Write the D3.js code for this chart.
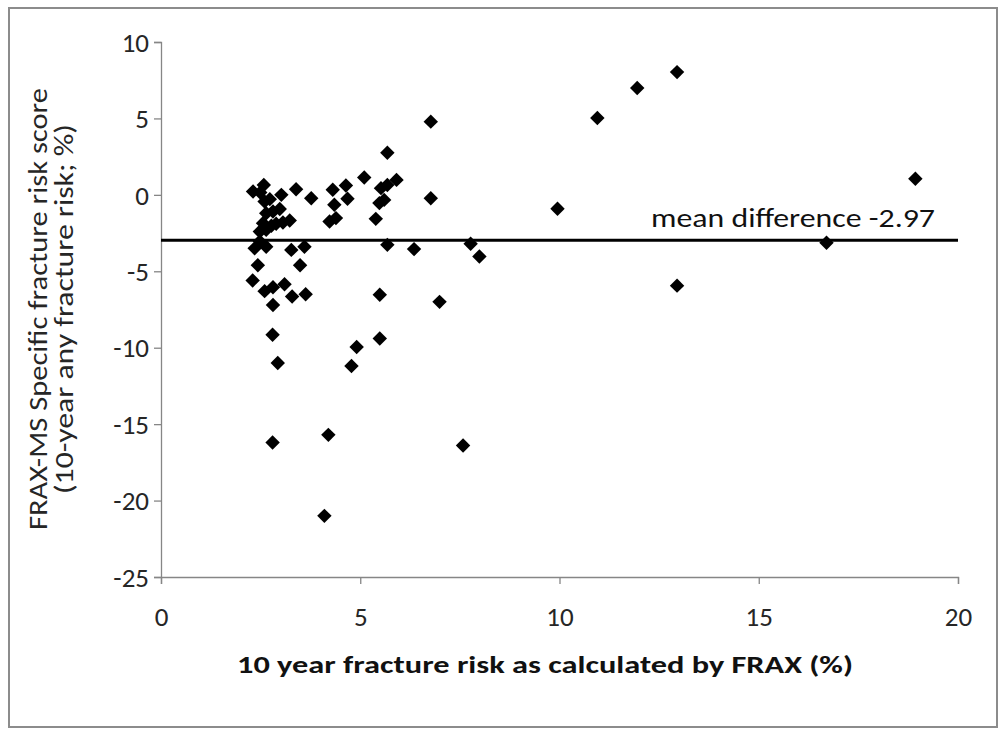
<!DOCTYPE html>
<html>
<head>
<meta charset="utf-8">
<script src="https://cdn.jsdelivr.net/npm/d3@7"></script>
<style>
  html, body { margin: 0; padding: 0; background: #fff; }
  svg { display: block; }
  text { font-family: Calibri, Carlito, Lato, "Open Sans", sans-serif; }
</style>
</head>
<body>
<svg id="chart" width="1007" height="735"></svg>
<script>
// 10-year fracture risk by FRAX (%) vs. difference in FRAX-MS specific score
const fraxRisk = [
  2.31, 2.58, 2.49, 3.02, 3.39, 3.77, 2.60, 2.73, 2.64, 2.81,
  2.98, 2.56, 2.77, 2.89, 3.06, 3.23, 2.48, 2.64, 2.48, 2.35,
  2.64, 3.27, 3.60, 2.43, 3.49, 2.30, 2.60, 2.81, 3.10, 2.81,
  3.29, 3.63, 2.80, 2.93, 2.80, 4.20, 4.10, 4.31, 4.64, 5.10,
  4.35, 4.68, 4.23, 4.39, 5.52, 5.68, 5.91, 5.48, 5.60, 5.39,
  5.68, 5.68, 6.35, 5.49, 5.49, 4.91, 4.78, 6.77, 6.77, 6.99,
  7.58, 7.77, 7.99, 9.95, 10.95, 11.95, 12.95, 12.95, 16.70, 18.93
];
const scoreDifference = [
  0.22, 0.65, 0.15, 0.00, 0.37, -0.22, -0.44, -0.28, -1.20, -1.09,
  -0.93, -1.85, -2.02, -1.89, -1.81, -1.68, -2.40, -2.29, -3.05, -3.50,
  -3.40, -3.60, -3.40, -4.60, -4.60, -5.60, -6.30, -6.05, -5.85, -7.20,
  -6.65, -6.50, -9.15, -11.0, -16.2, -15.7, -21.0, 0.33, 0.61, 1.13,
  -0.65, -0.26, -1.74, -1.52, 0.44, 0.65, 0.98, -0.54, -0.33, -1.57,
  2.75, -3.27, -3.55, -6.53, -9.40, -9.95, -11.2, 4.79, -0.22, -7.0,
  -16.4, -3.2, -4.03, -0.91, 5.03, 6.99, 8.03, -5.94, -3.13, 1.05
];
const meanDifference = -2.97;

const xTicks = [0, 5, 10, 15, 20];
const yTicks = [10, 5, 0, -5, -10, -15, -20, -25];

const xTitle = "10 year fracture risk as calculated by FRAX (%)";
const yTitleLines = ["FRAX-MS Specific fracture risk score", "(10-year any fracture risk; %)"];
const meanLabel = "mean difference " + meanDifference;

const svg = d3.select("#chart");
const axisColor = "#868686";
const labelColor = "#262626";

// frame around the chart area
svg.append("rect")
  .attr("x", 9).attr("y", 8)
  .attr("width", 988).attr("height", 719)
  .attr("fill", "none")
  .attr("stroke", "#8c8c8c")
  .attr("stroke-width", 2);

const x = d3.scaleLinear().domain([0, 20]).range([161, 958]);
const y = d3.scaleLinear().domain([-25, 10]).range([577, 42]);

// y axis
const yAxis = svg.append("g")
  .attr("transform", `translate(${x(0)},0)`)
  .call(d3.axisLeft(y).tickValues(yTicks).tickSize(7).tickPadding(5).tickFormat(d3.format("d")));
yAxis.select(".domain").attr("stroke", axisColor).attr("stroke-width", 1.3);
yAxis.selectAll(".tick line").attr("stroke", axisColor).attr("stroke-width", 1.3);
yAxis.selectAll(".tick text")
  .attr("fill", labelColor)
  .style("font-size", "27px")
  .attr("dy", "0.34em")
  .text(d => d < 0 ? "-" + Math.abs(d) : d);

// x axis
const xAxis = svg.append("g")
  .attr("transform", `translate(0,${y(-25)})`)
  .call(d3.axisBottom(x).tickValues(xTicks).tickSize(7).tickPadding(23).tickFormat(d3.format("d")));
xAxis.select(".domain").attr("stroke", axisColor).attr("stroke-width", 1.3);
xAxis.selectAll(".tick line").attr("stroke", axisColor).attr("stroke-width", 1.3);
xAxis.selectAll(".tick text")
  .attr("fill", labelColor)
  .style("font-size", "27px");

// mean difference reference line
svg.append("line")
  .attr("x1", x(0)).attr("x2", x(20))
  .attr("y1", y(meanDifference)).attr("y2", y(meanDifference))
  .attr("stroke", "#000")
  .attr("stroke-width", 3.2);

svg.append("text")
  .attr("x", 651).attr("y", y(meanDifference) - 13)
  .attr("fill", "#111")
  .style("font-size", "27px")
  .attr("textLength", 284)
  .attr("lengthAdjust", "spacingAndGlyphs")
  .text(meanLabel);

// diamond markers
const points = fraxRisk.map((v, i) => ({ fx: v, diff: scoreDifference[i] }));
const diamond = d3.symbol().type(d3.symbolSquare).size(104);
svg.append("g")
  .selectAll("path")
  .data(points)
  .join("path")
  .attr("d", diamond)
  .attr("transform", d => `translate(${x(d.fx)},${y(d.diff)}) rotate(45)`)
  .attr("fill", "#000");

// axis titles
svg.append("text")
  .attr("x", 237)
  .attr("y", 673)
  .attr("fill", "#111")
  .style("font-size", "25px")
  .style("font-weight", "bold")
  .attr("textLength", 616)
  .attr("lengthAdjust", "spacingAndGlyphs")
  .text(xTitle);

const yTitleLengths = [442, 370];
const yTitle = svg.append("text")
  .attr("transform", "translate(0,309) rotate(-90)")
  .attr("fill", labelColor)
  .style("font-size", "26px");
yTitle.selectAll("tspan")
  .data(yTitleLines)
  .join("tspan")
  .attr("x", (d, i) => -yTitleLengths[i] / 2)
  .attr("y", (d, i) => 47 + i * 26)
  .attr("textLength", (d, i) => yTitleLengths[i])
  .attr("lengthAdjust", "spacingAndGlyphs")
  .text(d => d);
</script>
</body>
</html>
